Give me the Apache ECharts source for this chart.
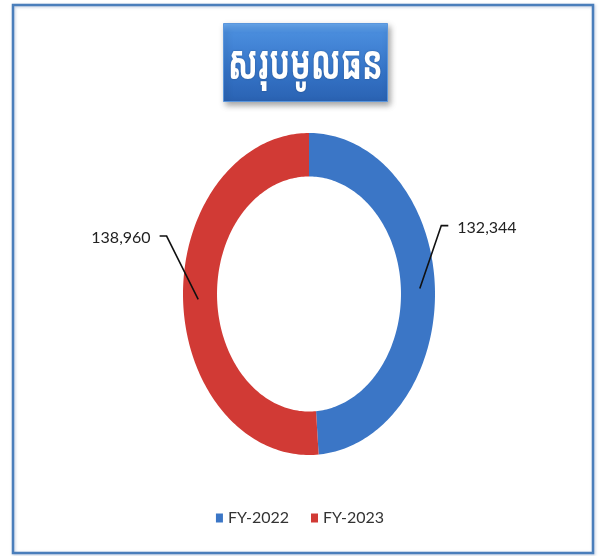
<!DOCTYPE html>
<html>
<head>
<meta charset="utf-8">
<script src="https://cdn.jsdelivr.net/npm/echarts@6/dist/echarts.min.js"></script>
<style>
  html, body { margin: 0; padding: 0; background: #ffffff; }
  #chart { width: 600px; height: 556px; }
</style>
</head>
<body>
<div id="chart"></div>
<script>
// Total capital by fiscal year
const categories = ['FY-2022', 'FY-2023'];
const values = [132344, 138960];
const titleText = 'សរុបមូលធន';

// Styling and layout (kept apart from the data)
const colors = ['#3b76c6', '#d13a35'];
const innerRatio = 0.73;
// Elbow of each leader line, in the ring's own [-1, 1] space
const labelElbows = [[1.05, 0.425], [-1.13, 0.36]];

const total = values.reduce((a, b) => a + b, 0);

function makeRenderItem(i) {
  return function (params, api) {
    const before = values.slice(0, i).reduce((a, b) => a + b, 0);
    const a0 = before / total * Math.PI * 2;
    const a1 = (before + values[i]) / total * Math.PI * 2;
    // angle measured clockwise from 12 o'clock
    const pt = (r, a) => api.coord([r * Math.sin(a), r * Math.cos(a)]);
    const steps = 160;
    const pts = [];
    for (let k = 0; k <= steps; k++) pts.push(pt(1, a0 + (a1 - a0) * k / steps));
    for (let k = steps; k >= 0; k--) pts.push(pt(innerRatio, a0 + (a1 - a0) * k / steps));

    const mid = (a0 + a1) / 2;
    const p0 = pt((1 + innerRatio) / 2 + 0.015, mid);
    const elbow = api.coord(labelElbows[i]);
    const dir = labelElbows[i][0] >= 0 ? 1 : -1;
    const p2 = [elbow[0] + dir * 7, elbow[1]];

    return {
      type: 'group',
      children: [
        {
          type: 'polygon',
          shape: { points: pts },
          style: { fill: colors[i] }
        },
        {
          type: 'polyline',
          shape: { points: [p0, elbow, p2] },
          style: { stroke: '#111111', lineWidth: 1.6, fill: null }
        },
        {
          type: 'text',
          x: p2[0] + dir * 9,
          y: p2[1] + 2,
          style: {
            text: values[i].toLocaleString('en-US'),
            fill: '#222222',
            font: '16px Lato, "Open Sans", sans-serif',
            align: dir > 0 ? 'left' : 'right',
            verticalAlign: 'middle'
          }
        }
      ]
    };
  };
}

const chart = echarts.init(document.getElementById('chart'), null, { renderer: 'canvas' });

chart.setOption({
  animation: false,
  backgroundColor: '#ffffff',
  grid: { left: 183, top: 133, width: 252, height: 322 },
  xAxis: { type: 'value', min: -1, max: 1, show: false },
  yAxis: { type: 'value', min: -1, max: 1, show: false },
  legend: {
    data: categories,
    bottom: 25,
    left: 'center',
    icon: 'rect',
    itemWidth: 7,
    itemHeight: 9,
    itemGap: 22,
    textStyle: { fontFamily: 'Lato, "Open Sans", sans-serif', fontSize: 16, color: '#333333' }
  },
  graphic: [
    {
      type: 'rect',
      shape: { x: 13, y: 5, width: 580, height: 548 },
      style: {
        fill: null, stroke: '#4a7ebb', lineWidth: 2.5,
        shadowBlur: 3, shadowColor: 'rgba(60,100,160,0.35)', shadowOffsetX: 1, shadowOffsetY: 1
      },
      z: 10
    },
    {
      type: 'group',
      left: 223,
      top: 23,
      children: [
        {
          type: 'rect',
          shape: { x: 0, y: 0, width: 164, height: 78 },
          style: {
            fill: {
              type: 'linear', x: 0, y: 0, x2: 0, y2: 1,
              colorStops: [
                { offset: 0, color: '#6aaaf0' },
                { offset: 0.12, color: '#4a8ddd' },
                { offset: 0.6, color: '#3574c8' },
                { offset: 1, color: '#2a62b2' }
              ]
            },
            stroke: '#5b96dc', lineWidth: 1,
            shadowBlur: 6, shadowColor: 'rgba(0,0,0,0.35)', shadowOffsetX: 2, shadowOffsetY: 3
          }
        },
        {
          type: 'text',
          x: 82,
          y: 42,
          scaleX: 0.64,
          style: {
            text: titleText,
            fill: '#ffffff',
            font: 'bold 48px "Khmer OS", "Noto Sans Khmer", "Noto Serif Khmer", "Khmer OS System", sans-serif',
            align: 'center',
            verticalAlign: 'middle',
            textShadowBlur: 2,
            textShadowColor: 'rgba(0,0,0,0.3)'
          }
        }
      ]
    }
  ],
  series: categories.map((name, i) => ({
    type: 'custom',
    name: name,
    coordinateSystem: 'cartesian2d',
    clip: false,
    itemStyle: { color: colors[i] },
    encode: { x: 0, y: 1 },
    data: [[0, 0]],
    renderItem: makeRenderItem(i)
  }))
});
</script>
</body>
</html>
